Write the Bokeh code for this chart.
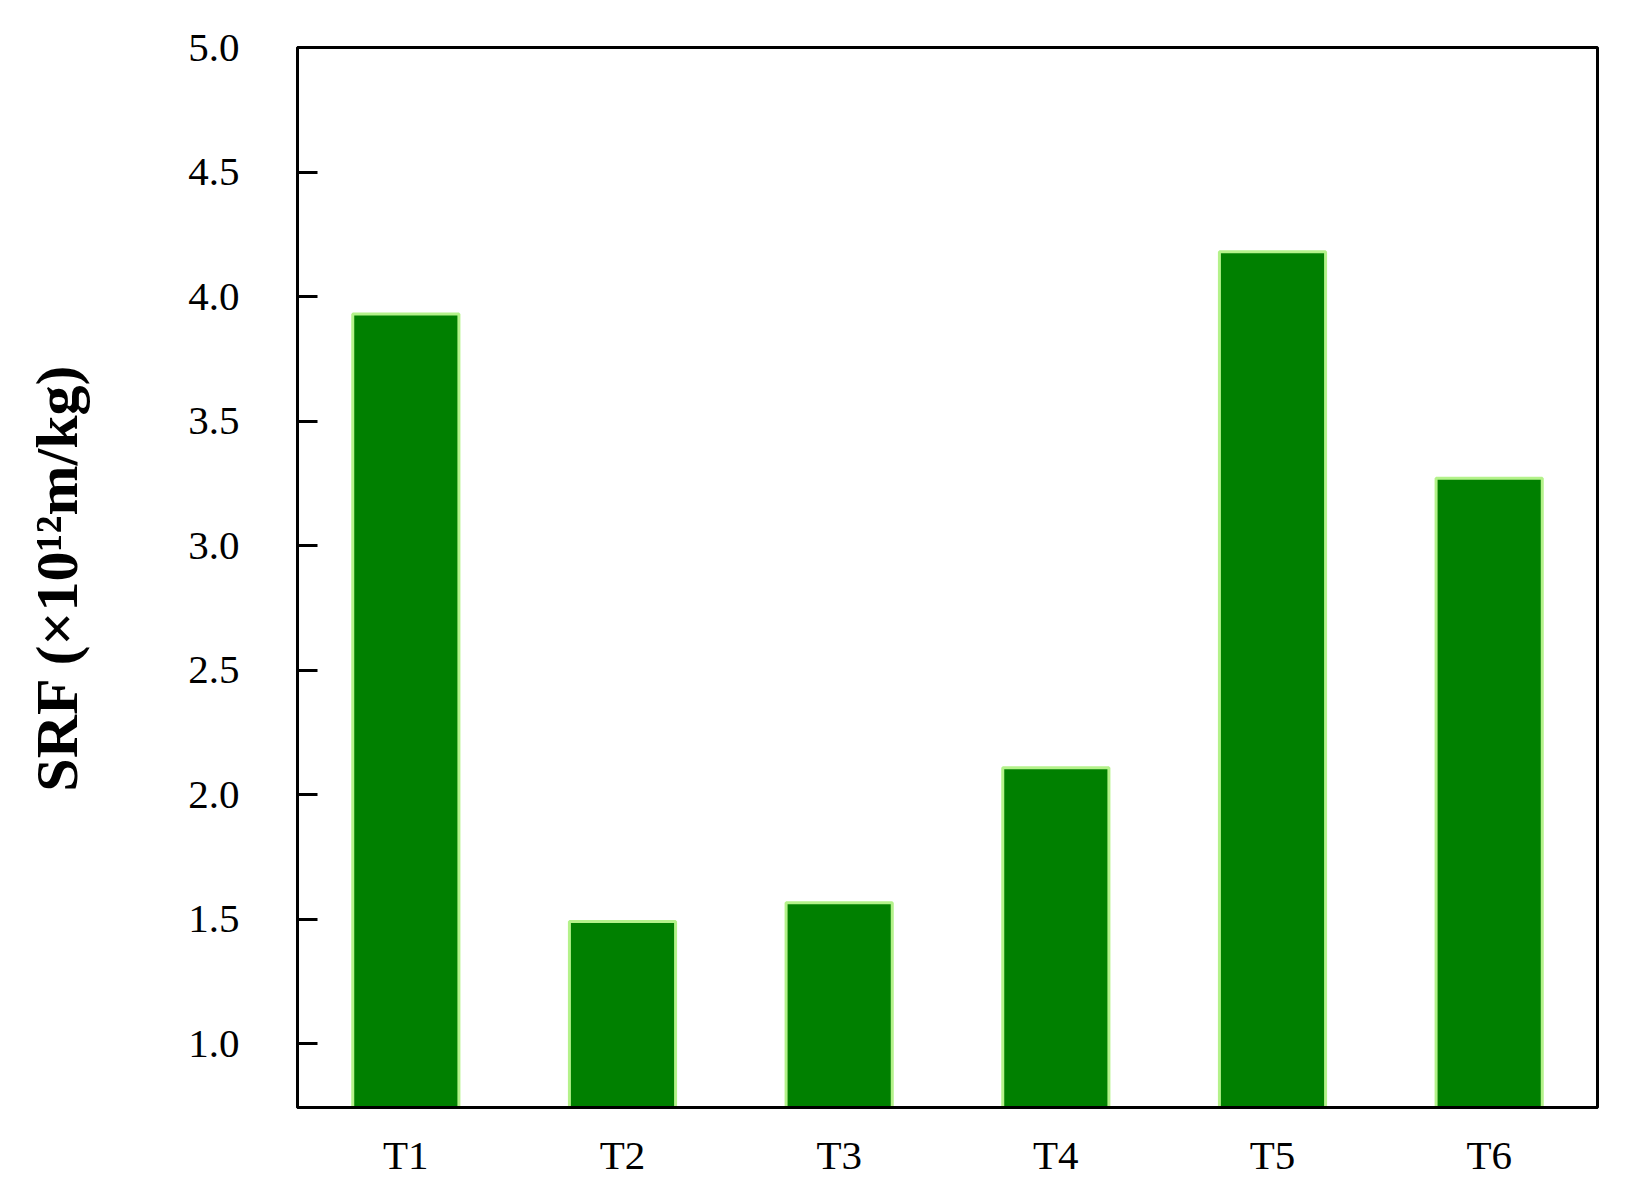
from bokeh.plotting import figure
from bokeh.models import Range1d, FactorRange, ColumnDataSource, FixedTicker, CustomJSTickFormatter
from bokeh.embed import file_html
from bokeh.resources import INLINE

categories = ["T1", "T2", "T3", "T4", "T5", "T6"]
srf_values = [3.93, 1.49, 1.565, 2.107, 4.18, 3.27]
y_ticks = [1.0, 1.5, 2.0, 2.5, 3.0, 3.5, 4.0, 4.5, 5.0]
y_title = "SRF (×10¹²m/kg)"

source = ColumnDataSource(data=dict(cat=categories, val=srf_values))

FONT = "Liberation Serif"

p = figure(
    x_range=FactorRange(*categories, range_padding=0),
    y_range=Range1d(0.743, 5.0),
    width=1624, height=1186,
    min_border_left=297, min_border_right=27,
    min_border_top=47, min_border_bottom=79,
    output_backend="svg", toolbar_location=None,
    background_fill_color="white", border_fill_color="white",
)

p.vbar(x="cat", top="val", bottom=0, width=0.49, source=source,
       fill_color="#008000", line_color="#b4f28a", line_width=3)

p.xgrid.grid_line_color = None
p.ygrid.grid_line_color = None

p.outline_line_color = "black"
p.outline_line_width = 3
p.outline_line_alpha = 1

# y axis
p.yaxis.ticker = FixedTicker(ticks=y_ticks)
p.yaxis.formatter = CustomJSTickFormatter(code="return tick.toFixed(1);")
p.yaxis.axis_line_color = "black"
p.yaxis.axis_line_width = 3
p.yaxis.major_tick_in = 20
p.yaxis.major_tick_out = 0
p.yaxis.major_tick_line_width = 3
p.yaxis.minor_tick_line_color = None
p.yaxis.major_label_standoff = 58
p.yaxis.major_label_text_font = FONT
p.yaxis.major_label_text_font_size = "41px"
p.yaxis.major_label_text_color = "black"
p.yaxis.axis_label = y_title
p.yaxis.axis_label_text_font = FONT
p.yaxis.axis_label_text_font_style = "bold"
p.yaxis.axis_label_text_font_size = "60px"
p.yaxis.axis_label_text_color = "black"
p.yaxis.axis_label_standoff = 95

# x axis
p.xaxis.axis_line_color = "black"
p.xaxis.axis_line_width = 3
p.xaxis.major_tick_line_color = None
p.xaxis.minor_tick_line_color = None
p.xaxis.major_label_standoff = 18
p.xaxis.major_label_text_font = FONT
p.xaxis.major_label_text_font_size = "41px"
p.xaxis.major_label_text_color = "black"

open("out.html", "w").write(file_html(p, INLINE))
